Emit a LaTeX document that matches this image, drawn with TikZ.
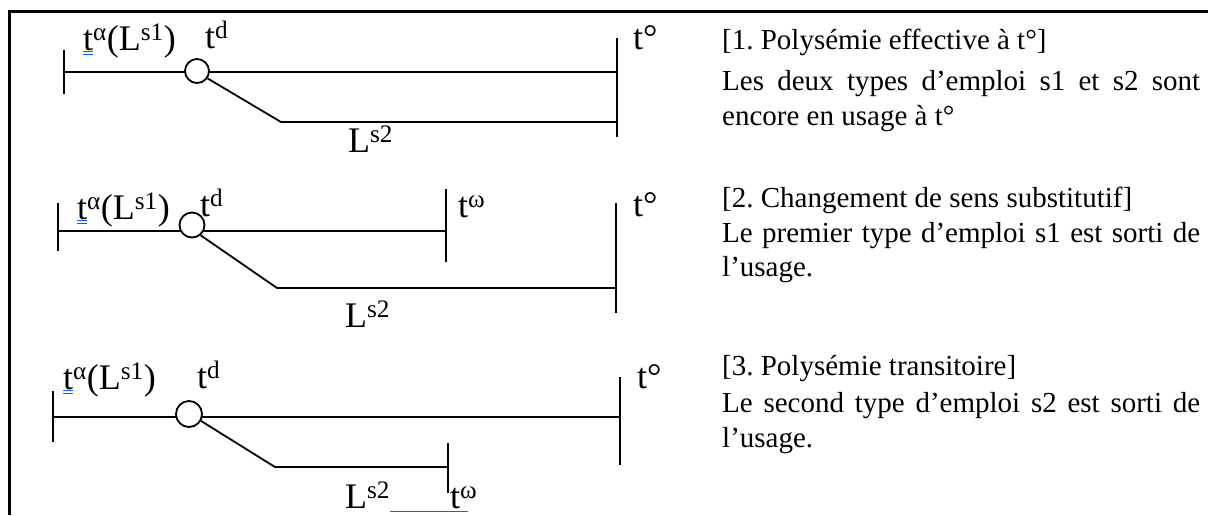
\documentclass[tikz,border=0pt]{standalone}
\usepackage{fontspec}
\setmainfont{Liberation Serif}
\usetikzlibrary{calc}
\frenchspacing

\tikzset{
  ligne/.style={line width=1.8pt},
  cadre/.style={line width=3pt},
  noeud/.style={draw,circle,line width=1.8pt,fill=white,inner sep=0pt,minimum size=#1},
  etiq/.style={anchor=base west,inner sep=0pt,font=\fontsize{36}{40}\selectfont},
  texte/.style={anchor=base west,inner sep=0pt,font=\fontsize{29}{35}\selectfont},
  souligne/.style={draw=blue!60!cyan,line width=0.8pt}
}
\newcommand{\corps}[1]{\makebox[478pt][s]{#1}}

\begin{document}
\begin{tikzpicture}[x=1pt,y=-1pt]
\useasboundingbox (0,0) rectangle (1208,515);
\draw[cadre] (1208,11) -- (9,11) -- (9,515);

% premier schema
\coordinate (a1h) at (64,50);  \coordinate (a1b) at (64,94);  \coordinate (a1) at (64,72);
\coordinate (o1h) at (617,38); \coordinate (o1b) at (617,137); \coordinate (o1) at (617,72);
\coordinate (k1) at (281,122); \coordinate (s1) at (617,122);
\draw[ligne] (a1h) -- (a1b);
\draw[ligne] (o1h) -- (o1b);
\draw[ligne] (a1) -- (o1);
\node[noeud=24pt] (d1) at (197,71) {};
\draw[ligne] (d1.-35) -- (k1) -- (s1);
\node[etiq] (ta1) at (83,50) {t\textsuperscript{α}(L\textsuperscript{s1})};
\node[etiq] (td1) at (205,48) {t\textsuperscript{d}};
\node[etiq] (to1) at (633,49) {t°};
\node[etiq] (ls1) at (348,152) {L\textsuperscript{s2}};
\draw[souligne] ($(ta1.base west)+(0,1.5)$) -- ++(10,0);
\draw[souligne] ($(ta1.base west)+(0,4)$) -- ++(10,0);

% deuxieme schema
\coordinate (a2h) at (58,203);  \coordinate (a2b) at (58,251);  \coordinate (a2) at (58,231);
\coordinate (w2h) at (446,189); \coordinate (w2b) at (446,262); \coordinate (w2) at (446,231);
\coordinate (o2h) at (616,203); \coordinate (o2b) at (616,313);
\coordinate (k2) at (277,288);  \coordinate (s2) at (616,288);
\draw[ligne] (a2h) -- (a2b);
\draw[ligne] (w2h) -- (w2b);
\draw[ligne] (o2h) -- (o2b);
\draw[ligne] (a2) -- (w2);
\node[noeud=25pt] (d2) at (192,225) {};
\draw[ligne] (d2.-50) -- (k2) -- (s2);
\node[etiq] (ta2) at (77,219) {t\textsuperscript{α}(L\textsuperscript{s1})};
\node[etiq] (td2) at (200,216) {t\textsuperscript{d}};
\node[etiq] (tw2) at (458,217) {t\textsuperscript{ω}};
\node[etiq] (to2) at (633,216) {t°};
\node[etiq] (ls2) at (345,327) {L\textsuperscript{s2}};
\draw[souligne] ($(ta2.base west)+(0,1.5)$) -- ++(10,0);
\draw[souligne] ($(ta2.base west)+(0,4)$) -- ++(10,0);

% troisieme schema
\coordinate (a3h) at (53,391);  \coordinate (a3b) at (53,442);  \coordinate (a3) at (53,417);
\coordinate (o3h) at (620,377); \coordinate (o3b) at (620,465); \coordinate (o3) at (620,417);
\coordinate (w3h) at (448,443); \coordinate (w3b) at (448,493); \coordinate (w3) at (448,467);
\coordinate (k3) at (275,467);
\draw[ligne] (a3h) -- (a3b);
\draw[ligne] (o3h) -- (o3b);
\draw[ligne] (w3h) -- (w3b);
\draw[ligne] (a3) -- (o3);
\node[noeud=26pt] (d3) at (189,414) {};
\draw[ligne] (d3.-30) -- (k3) -- (w3);
\node[etiq] (ta3) at (63,389) {t\textsuperscript{α}(L\textsuperscript{s1})};
\node[etiq] (td3) at (197,388) {t\textsuperscript{d}};
\node[etiq] (to3) at (637,388) {t°};
\node[etiq] (ls3) at (345,508) {L\textsuperscript{s2}};
\node[etiq] (tw3) at (450,508) {t\textsuperscript{ω}};
\draw[souligne] ($(ta3.base west)+(0,1.5)$) -- ++(10,0);
\draw[souligne] ($(ta3.base west)+(0,4)$) -- ++(10,0);
\draw[souligne] (390,511) -- (468,511);

% textes
\node[texte] (t1a) at (722,49) {[1. Polysémie effective à t°]};
\node[texte] (t1b) at (722,90) {\corps{Les deux types d’emploi s1 et s2 sont}};
\node[texte] (t1c) at (722,125) {encore en usage à t°};
\node[texte] (t2a) at (722,207) {[2. Changement de sens substitutif]};
\node[texte] (t2b) at (722,242) {\corps{Le premier type d’emploi s1 est sorti de}};
\node[texte] (t2c) at (722,276) {l’usage.};
\node[texte] (t3a) at (722,375) {[3. Polysémie transitoire]};
\node[texte] (t3b) at (722,412) {\corps{Le second type d’emploi s2 est sorti de}};
\node[texte] (t3c) at (722,447) {l’usage.};
\end{tikzpicture}
\end{document}
